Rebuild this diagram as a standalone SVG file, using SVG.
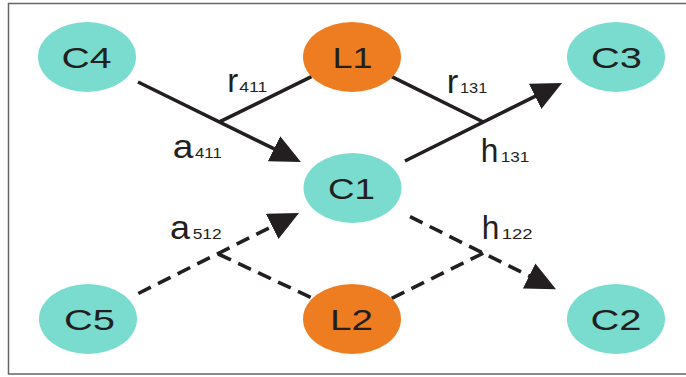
<svg xmlns="http://www.w3.org/2000/svg" width="686" height="377" viewBox="0 0 686 377">
  <style>
    .c { fill: #79DCCF; }
    .l { fill: #EE7D22; }
    .nt { font-family: "Liberation Sans", Arial, sans-serif; font-size: 30px; fill: #231F20; }
    .lt { font-family: "Liberation Sans", Arial, sans-serif; font-size: 33px; fill: #231F20; }
    .st { font-family: "Liberation Sans", Arial, sans-serif; font-size: 14.5px; fill: #231F20; }
    .e { stroke: #231F20; stroke-width: 3.6; fill: none; }
    .d { stroke-dasharray: 14 8; }
  </style>
  <defs>
    <marker id="ah" viewBox="0 0 30 28" refX="10" refY="14" markerWidth="30" markerHeight="28" markerUnits="userSpaceOnUse" orient="auto">
      <path d="M0,0 L30,14 L0,28 Z" fill="#231F20"/>
    </marker>
  </defs>
  <rect x="8.5" y="3.5" width="700" height="370.5" fill="#FFFFFF" stroke="#666666" stroke-width="1.5"/>

  <g id="connectors">
    <line class="e" x1="138" y1="82" x2="283" y2="153.2" marker-end="url(#ah)"/>
    <line class="e" x1="311.5" y1="76.7" x2="220" y2="121.7"/>
    <line class="e" x1="405" y1="161" x2="544.1" y2="91.9" marker-end="url(#ah)"/>
    <line class="e" x1="391.7" y1="76.7" x2="483.3" y2="122"/>
    <line class="e d" x1="138.3" y1="293.5" x2="281.1" y2="221.9" marker-end="url(#ah)"/>
    <line class="e d" x1="218.3" y1="254" x2="312.7" y2="298.3"/>
    <line class="e d" x1="410" y1="216.7" x2="538.1" y2="280.4" marker-end="url(#ah)"/>
    <line class="e d" x1="391.7" y1="298.3" x2="483.3" y2="253.2"/>
  </g>

  <g id="labels">
    <text class="lt" x="227.3" y="92" textLength="11" lengthAdjust="spacingAndGlyphs">r</text>
    <text class="st" x="239.3" y="92" textLength="28" lengthAdjust="spacingAndGlyphs">411</text>
    <text class="lt" x="172.7" y="158" textLength="20.6" lengthAdjust="spacingAndGlyphs">a</text>
    <text class="st" x="195" y="158" textLength="26.7" lengthAdjust="spacingAndGlyphs">411</text>
    <text class="lt" x="446.7" y="93.3" textLength="11.6" lengthAdjust="spacingAndGlyphs">r</text>
    <text class="st" x="460" y="93.3" textLength="27.3" lengthAdjust="spacingAndGlyphs">131</text>
    <text class="lt" x="480.7" y="161.7" textLength="17.6" lengthAdjust="spacingAndGlyphs">h</text>
    <text class="st" x="500.7" y="161.7" textLength="28.6" lengthAdjust="spacingAndGlyphs">131</text>
    <text class="lt" x="170" y="239.3" textLength="20" lengthAdjust="spacingAndGlyphs">a</text>
    <text class="st" x="192.7" y="239.3" textLength="29" lengthAdjust="spacingAndGlyphs">512</text>
    <text class="lt" x="481.7" y="239.3" textLength="17.6" lengthAdjust="spacingAndGlyphs">h</text>
    <text class="st" x="501.7" y="239.3" textLength="31" lengthAdjust="spacingAndGlyphs">122</text>
  </g>

  <g id="C4"><ellipse class="c" cx="87" cy="57" rx="49" ry="35"/><text class="nt" x="61.5" y="68" textLength="50" lengthAdjust="spacingAndGlyphs">C4</text></g>
  <g id="L1"><ellipse class="l" cx="352" cy="57" rx="49" ry="35"/><text class="nt" x="332.5" y="68" textLength="40" lengthAdjust="spacingAndGlyphs">L1</text></g>
  <g id="C3"><ellipse class="c" cx="616" cy="57" rx="49" ry="35"/><text class="nt" x="591" y="68" textLength="51" lengthAdjust="spacingAndGlyphs">C3</text></g>
  <g id="C1"><ellipse class="c" cx="352.5" cy="188" rx="49" ry="35"/><text class="nt" x="328" y="199" textLength="47" lengthAdjust="spacingAndGlyphs">C1</text></g>
  <g id="C5"><ellipse class="c" cx="88" cy="319" rx="49" ry="35"/><text class="nt" x="64" y="330" textLength="51" lengthAdjust="spacingAndGlyphs">C5</text></g>
  <g id="L2"><ellipse class="l" cx="352" cy="319" rx="49" ry="35"/><text class="nt" x="330" y="330" textLength="43" lengthAdjust="spacingAndGlyphs">L2</text></g>
  <g id="C2"><ellipse class="c" cx="616" cy="319" rx="49" ry="35"/><text class="nt" x="590.5" y="330" textLength="51" lengthAdjust="spacingAndGlyphs">C2</text></g>
</svg>
